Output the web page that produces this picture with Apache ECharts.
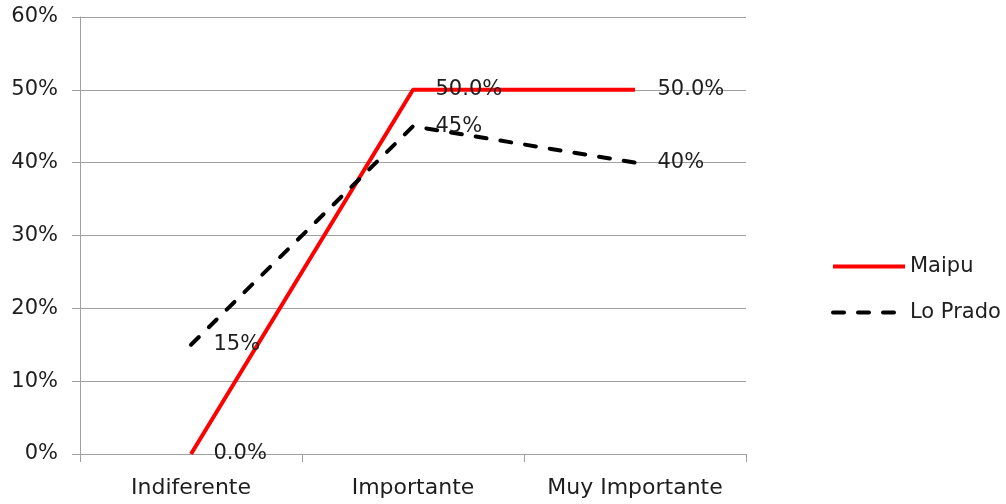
<!DOCTYPE html>
<html><head><meta charset="utf-8">
<script src="https://cdn.jsdelivr.net/npm/echarts@6/dist/echarts.min.js"></script>
<style>html,body{margin:0;padding:0;background:#fff}#c{width:1006px;height:504px}</style>
</head><body><div id="c"></div>
<script>
const categories = ['Indiferente', 'Importante', 'Muy Importante'];
const maipu = [0, 50, 50];
const loPrado = [15, 45, 40];
const yTicks = [0, 10, 20, 30, 40, 50, 60];

const FONT = 'DejaVu Sans';
const TXT = '#1e1e1e';
const FS = 22;
const chart = echarts.init(document.getElementById('c'));
chart.setOption({
  animation: false,
  backgroundColor: '#fff',
  textStyle: { fontFamily: FONT },
  grid: { left: 80, right: 260, top: 17, bottom: 50 },
  legend: {
    orient: 'vertical', left: 826, top: 251, itemWidth: 72, itemHeight: 16, itemGap: 25,
    textStyle: { fontFamily: FONT, fontSize: 21, color: TXT },
    lineStyle: { width: 4 },
    data: ['Maipu', 'Lo Prado']
  },
  xAxis: {
    type: 'category', data: categories, boundaryGap: true,
    axisLine: { lineStyle: { color: '#a0a0a0', width: 1 } },
    axisTick: { show: true, interval: 0, length: 8, lineStyle: { color: '#a0a0a0' } },
    axisLabel: { interval: 0, fontFamily: FONT, fontSize: FS, color: TXT, margin: 23 }
  },
  yAxis: {
    type: 'value', min: yTicks[0], max: yTicks[yTicks.length - 1], interval: 10,
    axisLine: { show: true, lineStyle: { color: '#a0a0a0', width: 1 } },
    axisTick: { show: true, length: 8, lineStyle: { color: '#a0a0a0' } },
    splitLine: { lineStyle: { color: '#a0a0a0', width: 1 } },
    axisLabel: { fontFamily: FONT, fontSize: 21, color: TXT, margin: 22, formatter: '{value}%' }
  },
  series: [
    {
      name: 'Maipu', type: 'line', data: maipu, symbol: 'circle', symbolSize: 1, showSymbol: true,
      lineStyle: { color: '#ff0000', width: 4 }, itemStyle: { color: 'rgba(0,0,0,0)' },
      label: { show: true, position: 'right', distance: 22, fontFamily: FONT, fontSize: 21, color: TXT,
        formatter: p => p.value.toFixed(1) + '%' }
    },
    {
      name: 'Lo Prado', type: 'line', data: loPrado, symbol: 'circle', symbolSize: 1, showSymbol: true,
      lineStyle: { color: '#000000', width: 4, type: [11, 14], cap: 'round' }, itemStyle: { color: 'rgba(0,0,0,0)' },
      label: { show: true, position: 'right', distance: 22, fontFamily: FONT, fontSize: 21, color: TXT,
        formatter: p => p.value.toFixed(0) + '%' }
    }
  ]
});
</script></body></html>
